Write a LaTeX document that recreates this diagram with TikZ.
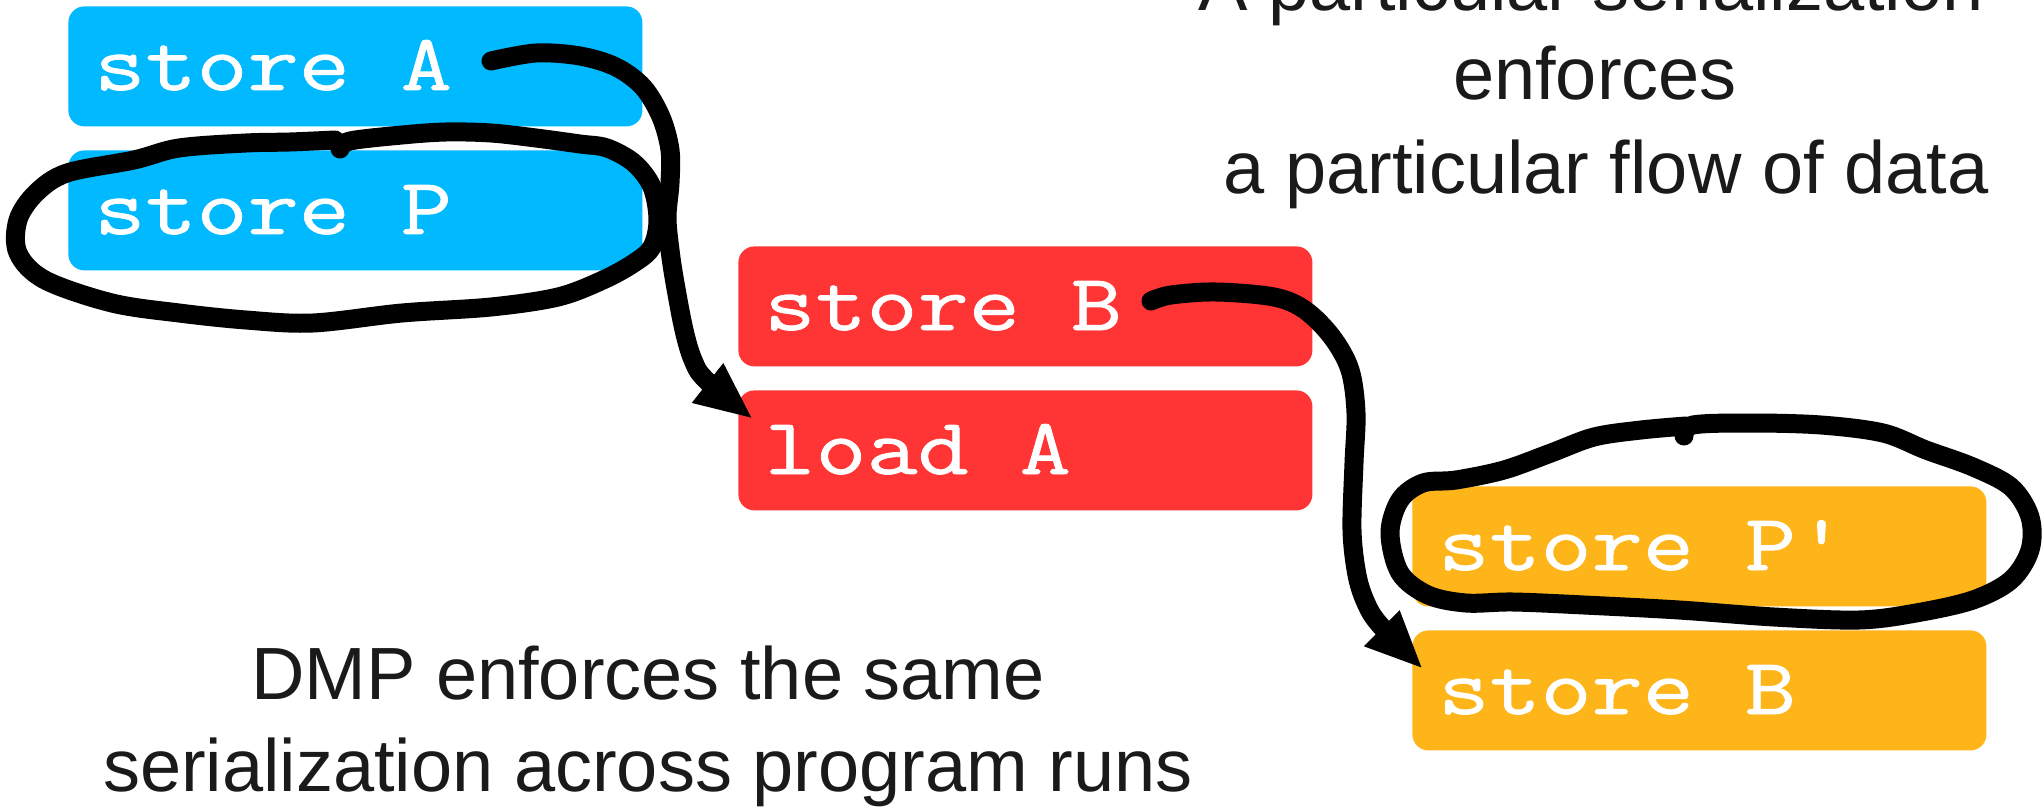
\documentclass[tikz,border=0pt]{standalone}
\usepackage{fontspec}
\setmainfont{Liberation Sans}
\newfontfamily\codefont[FakeStretch=1.24,FakeBold=1.0]{Latin Modern Mono}
\usetikzlibrary{arrows.meta}
\definecolor{cblue}{HTML}{00B9FF}
\definecolor{cred}{HTML}{FF3535}
\definecolor{corange}{HTML}{FDB51A}
\definecolor{textgray}{HTML}{1A1A1A}
\begin{document}
\begin{tikzpicture}[x=0.5pt,y=-0.5pt,
  box/.style={rounded corners=8pt, minimum width=287pt, minimum height=60pt, inner sep=0pt, anchor=north west},
  code/.style={font=\codefont\fontsize{40pt}{40pt}\selectfont, text=white, anchor=base west, inner sep=0pt},
  caption/.style={font=\fontsize{37pt}{44pt}\selectfont, text=textgray, anchor=base, inner sep=0pt},
  ink/.style={line width=9.5pt, line cap=round, line join=round},
  head/.style={-{Triangle[length=29pt,width=23pt]}}]
\useasboundingbox (0,0) rectangle (2042,808);
\clip (0,0) rectangle (2042,808);
\fill[white] (0,0) rectangle (2042,808);

% boxes
\node[box, fill=cblue]   (bA)  at (68,6)    {};
\node[box, fill=cblue]   (bP)  at (68,150)  {};
\node[box, fill=cred]    (rB)  at (738,246) {};
\node[box, fill=cred]    (rA)  at (738,390) {};
\node[box, fill=corange] (oP)  at (1412,486) {};
\node[box, fill=corange] (oB)  at (1412,630) {};

% box texts
\node[code] (tA)  at (94,90)    {store A};
\node[code] (tP)  at (94,234)   {store P};
\node[code] (tB)  at (764,330)  {store B};
\node[code] (tlA) at (764,474)  {load A};
\node[code] (tPp) at (1438,570) {store P'};
\node[code] (tB2) at (1438,714) {store B};

% captions
\node[caption] (c1) at (1591,11)  {A particular serialization};
\node[caption] (c2) at (1595,100) {enforces};
\node[caption] (c3) at (1606,193) {a particular flow of data};
\node[caption] (d1) at (648,699)  {DMP enforces the same};
\node[caption] (d2) at (648,791)  {serialization across program runs};

% hand-drawn annotations
\coordinate (a1s) at (491,61);
\coordinate (a1e) at (753,419);
\coordinate (a2s) at (1151,301);
\coordinate (a2e) at (1423,669);

\draw[ink, head] plot[smooth, tension=0.55] coordinates {
  (a1s) (536,53) (580,56) (616,67) (643,87) (661,117) (670,150) (670,183)
  (667,217) (670,250) (675,283) (684,330) (693,360) (706,380) (a1e)};

\draw[ink] plot[smooth, tension=0.55] coordinates {
  (340,149) (350,141) (402,135) (446,132) (491,133) (536,138) (580,144)
  (607,148) (634,163) (652,187) (658,220) (652,247) (634,263) (603,280)
  (558,297) (491,307) (402,313) (313,323) (246,320) (179,313) (112,303)
  (45,280) (18,253) (18,220) (36,193) (67,173) (134,160) (179,148)
  (246,143) (290,142) (335,140)};

\draw[ink, head] plot[smooth, tension=0.55] coordinates {
  (a2s) (1171,295) (1216,292) (1274,297) (1305,310) (1332,337) (1350,370)
  (1356,413) (1354,463) (1352,530) (1357,575) (1366,603) (1380,625) (a2e)};

\draw[ink] plot[smooth, tension=0.55] coordinates {
  (1684,436) (1693,425) (1750,423) (1821,425) (1883,433) (1926,450)
  (1973,467) (2011,487) (2030,517) (2030,550) (2011,580) (1973,600)
  (1916,613) (1859,620) (1774,617) (1679,610) (1584,605) (1513,602)
  (1466,603) (1428,595) (1400,573) (1390,533) (1400,500) (1423,483)
  (1456,480) (1504,470) (1551,453) (1594,437) (1641,430) (1686,426)};
\end{tikzpicture}
\end{document}
